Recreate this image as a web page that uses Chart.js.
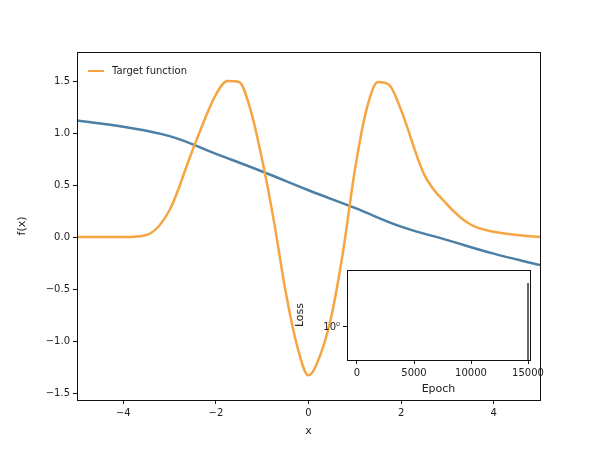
<!DOCTYPE html>
<html>
<head>
<meta charset="utf-8">
<script src="https://cdn.jsdelivr.net/npm/chart.js@4/dist/chart.umd.min.js"></script>
<style>
  html, body { margin: 0; padding: 0; background: #fff; }
  #wrap { position: relative; width: 600px; height: 450px; }
  #main { position: absolute; left: 0; top: 0; }
  #inset { position: absolute; left: 290px; top: 260px; }
</style>
</head>
<body>
<div id="wrap">
  <canvas id="main" width="600" height="450"></canvas>
  <canvas id="inset" width="280" height="140"></canvas>
</div>
<script>
const xValues = [-5, -4, -3.5, -3, -2.5, -2, -1.75, -1.5, -1.25, -1, -0.75, -0.5, -0.25, 0, 0.25, 0.5, 0.75, 1, 1.25, 1.5, 1.75, 2, 2.5, 3, 3.5, 4, 5];
const targetValues = [0, 0, 0.02, 0.26, 0.84, 1.37, 1.5, 1.49, 1.22, 0.74, 0.16, -0.51, -1.04, -1.33, -1.14, -0.75, -0.13, 0.64, 1.22, 1.49, 1.46, 1.22, 0.6, 0.31, 0.12, 0.05, 0];
const modelX = [-5, -4, -3, -2, -1, 0, 1, 2, 3, 4, 5];
const modelValues = [1.12, 1.06, 0.97, 0.8, 0.63, 0.45, 0.28, 0.1, -0.03, -0.16, -0.27];
const xTicks = [-4, -2, 0, 2, 4];
const yTicks = [-1.5, -1, -0.5, 0, 0.5, 1, 1.5];
const lossEpochs = [15000, 15000];
const lossValues = [0.3, 5];
const epochTicks = [0, 5000, 10000, 15000];

const FONT = 'DejaVu Sans';
Chart.defaults.font.family = FONT;
Chart.defaults.color = '#222';

function fmt (v, digits) {
  let s = v.toFixed(digits)
  return v < 0 ? '\u2212' + s.slice(1) : s
}

// matplotlib style box around the axes
const boxPlugin = {
  id: 'box',
  afterDraw (chart) {
    const a = chart.chartArea, ctx = chart.ctx
    ctx.save()
    ctx.strokeStyle = '#111'
    ctx.lineWidth = 1
    ctx.strokeRect(Math.round(a.left) + 0.5, Math.round(a.top) + 0.5, Math.round(a.right - a.left), Math.round(a.bottom - a.top))
    ctx.restore()
  }
}

// white face only inside the axes box
const facePlugin = {
  id: 'face',
  beforeDraw (chart) {
    const a = chart.chartArea, ctx = chart.ctx
    ctx.save()
    ctx.fillStyle = '#fff'
    ctx.fillRect(a.left, a.top, a.right - a.left, a.bottom - a.top)
    ctx.restore()
  }
}

const legendPlugin = {
  id: 'miniLegend',
  afterDraw (chart) {
    const ctx = chart.ctx
    ctx.save()
    ctx.strokeStyle = '#f5a542'
    ctx.lineWidth = 2
    ctx.beginPath()
    ctx.moveTo(88, 71)
    ctx.lineTo(104, 71)
    ctx.stroke()
    ctx.fillStyle = '#222'
    ctx.font = '10px ' + FONT
    ctx.textBaseline = 'middle'
    ctx.fillText('Target function', 112, 71)
    ctx.restore()
  }
}

function axis (ticks, min, max, title, fmtFn, size, titlePad) {
  return {
    type: 'linear', min, max,
    border: { color: '#111', width: 1 },
    grid: { drawOnChartArea: false, color: '#111', tickLength: 4, tickWidth: 1 },
    ticks: { color: '#222', font: { size: 10 }, padding: 3, callback: fmtFn, autoSkip: false, maxRotation: 0 },
    title: { display: true, text: title, color: '#222', font: { size: 11 }, padding: titlePad },
    afterBuildTicks: s => { s.ticks = ticks.map(v => ({ value: v })) },
    afterFit: s => {
      if (s.isHorizontal()) s.height = size; else s.width = size
      s.paddingLeft = 0; s.paddingRight = 0; s.paddingTop = 0; s.paddingBottom = 0
    }
  }
}

new Chart(document.getElementById('main'), {
  type: 'line',
  data: {
    datasets: [
      {
        label: 'Target function',
        data: xValues.map((x, i) => ({ x, y: targetValues[i] })),
        borderColor: '#f5a542', borderWidth: 2.5, pointRadius: 0, cubicInterpolationMode: 'monotone'
      },
      {
        label: 'Model',
        data: modelX.map((x, i) => ({ x, y: modelValues[i] })),
        borderColor: '#4c7fa6', borderWidth: 2.5, pointRadius: 0, tension: 0.4
      }
    ]
  },
  options: {
    responsive: false, animation: false,
    layout: { padding: { left: 12, right: 60, top: 52, bottom: 0 } },
    plugins: { legend: { display: false }, tooltip: { enabled: false } },
    scales: {
      x: axis(xTicks, -5, 5, 'x', v => fmt(v, 0), 50, { top: 4, bottom: 12 }),
      y: axis(yTicks, -1.567, 1.779, 'f(x)', v => fmt(v, 1), 65, { top: 4, bottom: 4 })
    }
  },
  plugins: [boxPlugin, legendPlugin]
})

const insetY = axis([1], 0.316, 8, 'Loss', v => v === 1 ? '10\u2070' : '', 57, { top: 4, bottom: 4 })
insetY.type = 'logarithmic'
new Chart(document.getElementById('inset'), {
  type: 'line',
  data: {
    datasets: [{
      data: lossEpochs.map((x, i) => ({ x, y: lossValues[i] })),
      borderColor: '#333', borderWidth: 1.5, pointRadius: 0
    }]
  },
  options: {
    responsive: false, animation: false,
    layout: { padding: { left: 0, right: 40, top: 10, bottom: 0 } },
    plugins: { legend: { display: false }, tooltip: { enabled: false } },
    scales: {
      x: axis(epochTicks, -877, 15175, 'Epoch', v => String(v), 40, { top: 2, bottom: 4 }),
      y: insetY
    }
  },
  plugins: [facePlugin, boxPlugin]
})
</script>
</body>
</html>
